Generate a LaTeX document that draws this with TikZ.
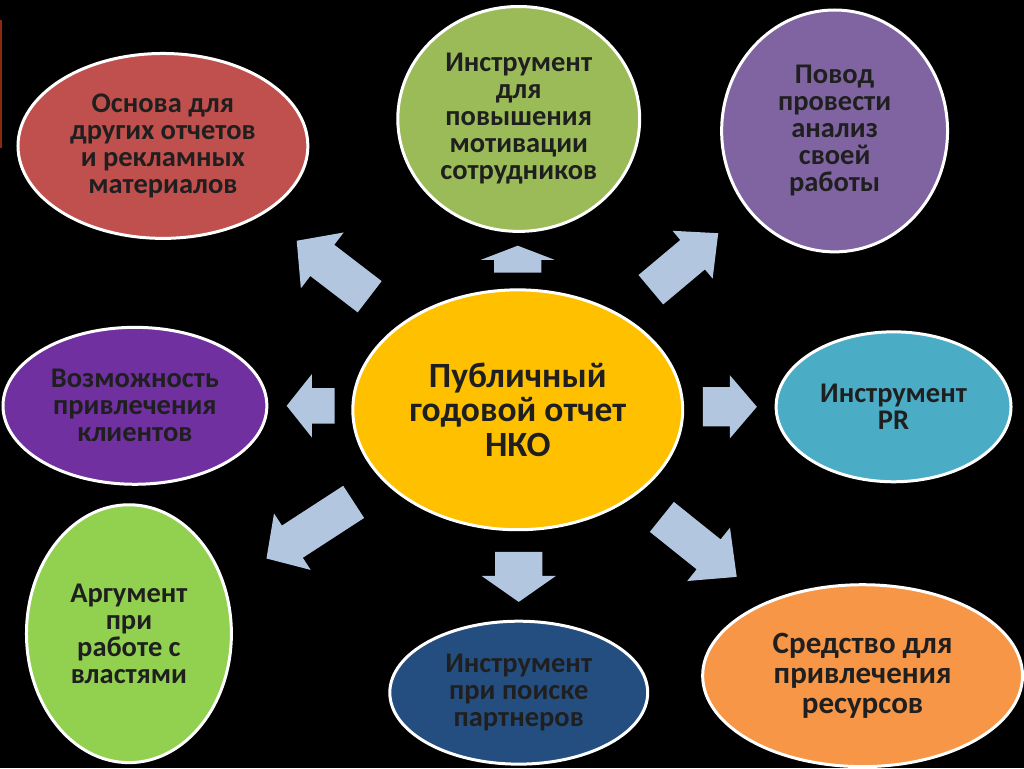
\documentclass[tikz,border=0pt]{standalone}
\usepackage{fontspec}
\setmainfont{Carlito}
\usetikzlibrary{shapes.geometric,shapes.arrows}
\definecolor{colFlecha}{HTML}{B3C6E0}
\definecolor{colRojo}{HTML}{C0504D}
\definecolor{colOliva}{HTML}{9BBB59}
\definecolor{colLila}{HTML}{8064A2}
\definecolor{colVioleta}{HTML}{7030A0}
\definecolor{colAmarillo}{HTML}{FFC000}
\definecolor{colTurquesa}{HTML}{4BACC6}
\definecolor{colVerde}{HTML}{92D050}
\definecolor{colMarino}{HTML}{254E80}
\definecolor{colNaranja}{HTML}{F79646}
\definecolor{colBorde}{HTML}{8B2A10}

\begin{document}
\begin{tikzpicture}[x=1pt, y=-1pt,
        burbuja/.style={ellipse, draw=white, line width=3pt, inner sep=0pt, align=center,
            text=black!88, font=\bfseries\fontsize{28.5}{27}\selectfont},
        flecha/.style={single arrow, fill=colFlecha, draw=none, inner xsep=0pt, anchor=tail, rotate=#1}
    ]
        % --- FONDO ---
        \fill[black] (0,0) rectangle (1024,768);
        \fill[colBorde] (0,20) rectangle (2,148);

        % Centro
        \node[burbuja, fill=colAmarillo, minimum width=330, minimum height=240,
            font=\bfseries\fontsize{35.5}{34.5}\selectfont] (informe) at (518,410)
            {Публичный\\годовой отчет\\НКО};

        % Burbujas exteriores
        \node[burbuja, fill=colRojo, minimum width=290, minimum height=185] (base) at (163,146)
            {Основа для\\других отчетов\\и рекламных\\материалов};
        \node[burbuja, fill=colOliva, minimum width=242, minimum height=225] (motivacion) at (519,119)
            {Инструмент\\для\\повышения\\мотивации\\сотрудников};
        \node[burbuja, fill=colLila, minimum width=226, minimum height=242] (analisis) at (835,131)
            {Повод\\провести\\анализ\\своей\\работы};
        \node[burbuja, fill=colVioleta, minimum width=264, minimum height=157] (clientes) at (135,406)
            {Возможность\\привлечения\\клиентов};
        \node[burbuja, fill=colTurquesa, minimum width=235, minimum height=150] (pr) at (894,407)
            {Инструмент\\PR};
        \node[burbuja, fill=colVerde, minimum width=205, minimum height=258] (poder) at (129,634)
            {Аргумент\\при\\работе с\\властями};
        \node[burbuja, fill=colMarino, minimum width=258, minimum height=143] (socios) at (519,693)
            {Инструмент\\при поиске\\партнеров};
        \node[burbuja, fill=colNaranja, minimum width=320, minimum height=182,
            font=\bfseries\fontsize{31}{30}\selectfont] (recursos) at (863,676)
            {Средство для\\привлечения\\ресурсов};

        % Flechas (inner ysep = medio ancho del cuerpo, ancladas en la cola)
        \node[flecha=90, minimum height=27, inner ysep=23.5, single arrow head extend=13,
            single arrow tip angle=138] (fArriba) at (518,273) {};
        \node[flecha=142.5, minimum height=92, inner ysep=19.5, single arrow head extend=15.5,
            single arrow tip angle=95] (fArribaIzq) at (370,297) {};
        \node[flecha=40, minimum height=88, inner ysep=19, single arrow head extend=12,
            single arrow tip angle=86] (fArribaDer) at (651,290) {};
        \node[flecha=180, minimum height=48, inner ysep=17.5, single arrow head extend=14,
            single arrow tip angle=103] (fIzq) at (335,406) {};
        \node[flecha=0, minimum height=54, inner ysep=19.5, single arrow head extend=12,
            single arrow tip angle=99] (fDer) at (703,407) {};
        \node[flecha=213, minimum height=104, inner ysep=19, single arrow head extend=14.5,
            single arrow tip angle=95] (fAbajoIzq) at (354,502) {};
        \node[flecha=-38.7, minimum height=96, inner ysep=19, single arrow head extend=15,
            single arrow tip angle=87] (fAbajoDer) at (662,517) {};
        \node[flecha=-90, minimum height=50, inner ysep=23.5, single arrow head extend=13.5,
            single arrow tip angle=110] (fAbajo) at (519,552) {};
    \end{tikzpicture}
\end{document}
